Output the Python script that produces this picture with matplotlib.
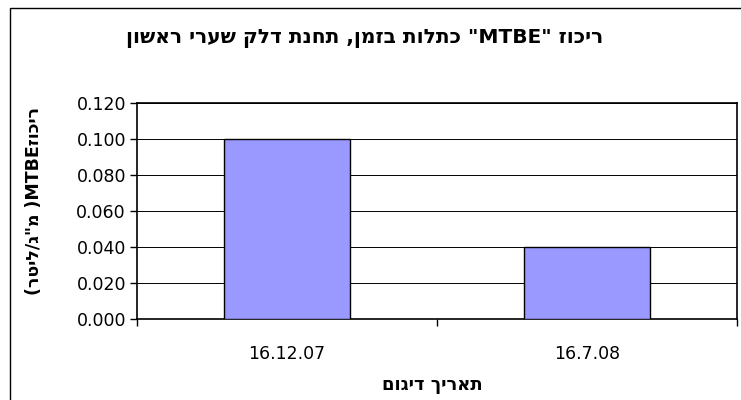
import re
import matplotlib
matplotlib.use("Agg")
import matplotlib.pyplot as plt
from matplotlib.patches import Rectangle

plt.rcParams['font.family'] = ['DejaVu Sans', 'Liberation Sans']

# Data
categories = ["16.12.07", "16.7.08"]
values = [0.100, 0.040]
y_ticks = [0.000, 0.020, 0.040, 0.060, 0.080, 0.100, 0.120]

title_text = 'ריכוז "MTBE" כתלות בזמן, תחנת דלק שערי ראשון'
xlabel_text = 'תאריך דיגום'
# y label as it appears visually (left-to-right order)
ylabel_visual = '(רטיל/ג"מ )MTBEזוכיר'


def visual(s):
    # matplotlib has no bidi: reverse the whole RTL line, then restore
    # left-to-right runs (Latin letters / digits) to their own order
    r = s[::-1]
    return re.sub(r'[A-Za-z0-9.]+', lambda m: m.group(0)[::-1], r)


fig = plt.figure(figsize=(7.41, 4.00), dpi=100)
fig.patch.set_facecolor('white')

# outer chart-area border (cropped on right/bottom)
fig.patches.append(Rectangle((10 / 741, -0.1), 1.2, (1 - 8 / 400) + 0.1,
                             transform=fig.transFigure, fill=False,
                             edgecolor='black', linewidth=1.0))

ax = fig.add_axes([137 / 741, 1 - 319 / 400, 600 / 741, 216 / 400])
x = list(range(len(categories)))
ax.bar(x, values, width=0.42, color='#9999FF', edgecolor='black',
       linewidth=1.0, zorder=3)

ax.set_xlim(-0.5, len(categories) - 0.5)
ax.set_ylim(0, 0.12)
ax.set_yticks(y_ticks)
ax.set_yticklabels([f"{v:.3f}" for v in y_ticks], fontsize=12.5)
ax.yaxis.grid(True, color='black', linewidth=0.7, zorder=0)
ax.set_axisbelow(True)

ax.set_xticks(x)
ax.set_xticklabels(categories, fontsize=12.5)
ax.tick_params(axis='x', which='major', length=0, pad=19)
ax.set_xticks([i + 0.5 for i in range(-1, len(categories))], minor=True)
ax.tick_params(axis='x', which='minor', length=5, width=1, direction='out')
ax.tick_params(axis='y', length=5, width=1, direction='out', pad=3)

for sp in ax.spines.values():
    sp.set_linewidth(1.2)
    sp.set_color('black')

fig.text(365 / 741, 1 - 38 / 400, visual(title_text), ha='center', va='center',
         fontsize=14.5, fontweight='bold')
fig.text(432 / 741, 1 - 385 / 400, visual(xlabel_text), ha='center',
         va='center', fontsize=13, fontweight='bold')
fig.text(34 / 741, 1 - 201 / 400, ylabel_visual, ha='center', va='center',
         rotation=90, fontsize=12.5, fontweight='bold')

fig.savefig('out.png', dpi=100, facecolor='white')
